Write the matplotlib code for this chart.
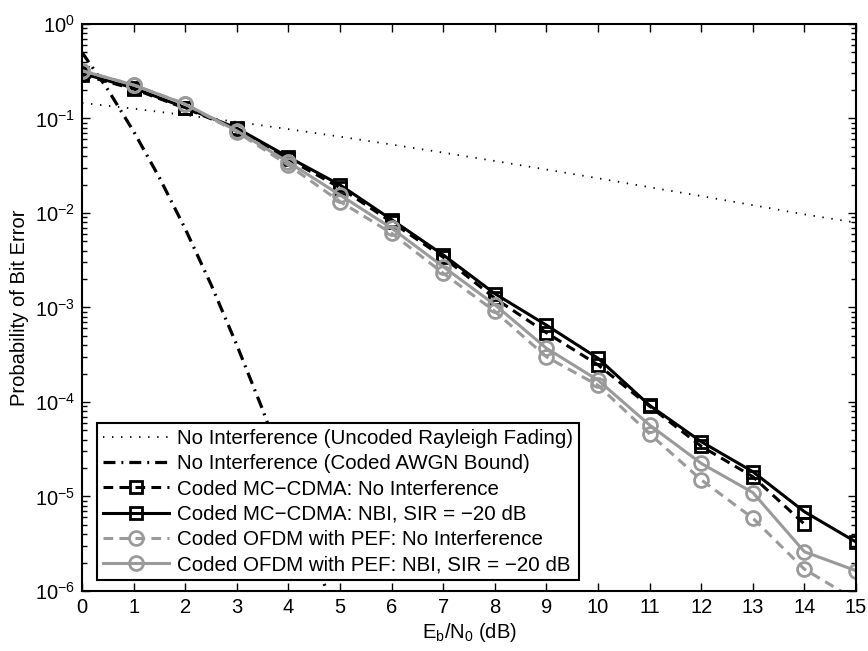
import numpy as np
import matplotlib
matplotlib.use("Agg")
import matplotlib.pyplot as plt
from matplotlib.ticker import LogLocator, FixedLocator, NullFormatter

plt.rcParams['font.family'] = ['Liberation Sans', 'DejaVu Sans']
plt.rcParams['mathtext.default'] = 'regular'
plt.rcParams['lines.scale_dashes'] = False

# ---------------- data ----------------
ebn0 = [0, 1, 2, 3, 4, 5, 6, 7, 8, 9, 10, 11, 12, 13, 14, 15]
y_ticks = [1e-6, 1e-5, 1e-4, 1e-3, 1e-2, 1e-1, 1e0]

uncoded_rayleigh = [0.146, 0.127, 0.1085, 0.0919, 0.0771, 0.0642, 0.0530, 0.0435,
                    0.0355, 0.0288, 0.0233, 0.0187, 0.0151, 0.0121, 0.00966, 0.0079]

awgn_x = [0, 0.5, 1, 1.5, 2, 2.5, 3, 3.5, 4, 4.5, 5]
awgn_bound = [0.5, 0.202, 0.073, 0.0236, 0.0068, 1.75e-3, 4.0e-4, 8.3e-5, 1.5e-5, 2.5e-6, 3.7e-7]

mc_noint = [0.29, 0.205, 0.128, 0.077, 0.037, 0.0185, 0.0080, 0.0034, 0.00125, 5.4e-4,
            2.47e-4, 9.0e-5, 3.4e-5, 1.62e-5, 5.1e-6, np.nan]
mc_nbi = [0.30, 0.21, 0.13, 0.079, 0.039, 0.0198, 0.0085, 0.0036, 0.0014, 6.5e-4,
          2.9e-4, 9.2e-5, 3.8e-5, 1.83e-5, 6.9e-6, 3.3e-6]
ofdm_noint = [0.32, 0.226, 0.142, 0.072, 0.032, 0.0132, 0.0061, 0.0023, 0.00091, 3.0e-4,
              1.5e-4, 4.6e-5, 1.5e-5, 5.9e-6, 1.7e-6, 8e-7]
ofdm_nbi = [0.32, 0.226, 0.142, 0.074, 0.0344, 0.0155, 0.0069, 0.0027, 0.00107, 3.7e-4,
            1.7e-4, 5.7e-5, 2.24e-5, 1.1e-5, 2.6e-6, 1.64e-6]

labels = ["No Interference (Uncoded Rayleigh Fading)",
          "No Interference (Coded AWGN Bound)",
          "Coded MC\u2212CDMA: No Interference",
          "Coded MC\u2212CDMA: NBI, SIR = \u221220 dB",
          "Coded OFDM with PEF: No Interference",
          "Coded OFDM with PEF: NBI, SIR = \u221220 dB"]

# ---------------- plot ----------------
fig = plt.figure(figsize=(8.68, 6.51), dpi=100)
ax = fig.add_axes([0.0945, 0.0922, 0.8917, 0.8710])

FS = 14.5
gray = '#9a9a9a'
lw = 2.2
ax.plot(ebn0, uncoded_rayleigh, color='black', lw=1.3, ls=(0, (1.0, 5.5)), label=labels[0])
ax.plot(awgn_x, awgn_bound, color='black', lw=2.3, ls=(0, (8.6, 4.3, 1.4, 4.3)), label=labels[1])
ax.plot(ebn0, mc_noint, color='black', lw=lw, ls=(0, (7.0, 4.5)), marker='s', ms=8.8,
        mfc='none', mew=2.0, label=labels[2])
ax.plot(ebn0, mc_nbi, color='black', lw=lw, ls='-', marker='s', ms=8.8,
        mfc='none', mew=2.0, label=labels[3])
ax.plot(ebn0, ofdm_noint, color=gray, lw=lw, ls=(0, (7.0, 4.5)), marker='o', ms=10,
        mfc='none', mew=2.0, label=labels[4])
ax.plot(ebn0, ofdm_nbi, color=gray, lw=lw, ls='-', marker='o', ms=10,
        mfc='none', mew=2.0, label=labels[5])

ax.set_yscale('log')
ax.set_xlim(0, 15)
ax.set_ylim(1e-6, 1)
ax.xaxis.set_major_locator(FixedLocator(ebn0))
ax.yaxis.set_major_locator(FixedLocator(y_ticks))
ax.yaxis.set_minor_locator(LogLocator(base=10, subs=np.arange(2, 10), numticks=10))
ax.yaxis.set_minor_formatter(NullFormatter())

ax.tick_params(axis='both', which='both', direction='in', top=True, right=True,
               labelsize=FS, colors='black', width=1.0)
ax.tick_params(axis='both', which='major', length=6, pad=5)
ax.tick_params(axis='both', which='minor', length=3.5)
for s in ax.spines.values():
    s.set_linewidth(1.5)
    s.set_color('black')

ax.set_xlabel('$E_b/N_0$ (dB)', fontsize=FS, labelpad=3)
ax.set_ylabel('Probability of Bit Error', fontsize=FS, labelpad=4)

leg = ax.legend(loc='lower left', bbox_to_anchor=(0.019, 0.019), borderaxespad=0,
                fontsize=14.8, handlelength=3.2, numpoints=1, fancybox=False,
                edgecolor='black', framealpha=1, labelspacing=0.3,
                borderpad=0.3, handletextpad=0.4)
leg.get_frame().set_linewidth(1.5)

fig.savefig('out.png', dpi=100)
